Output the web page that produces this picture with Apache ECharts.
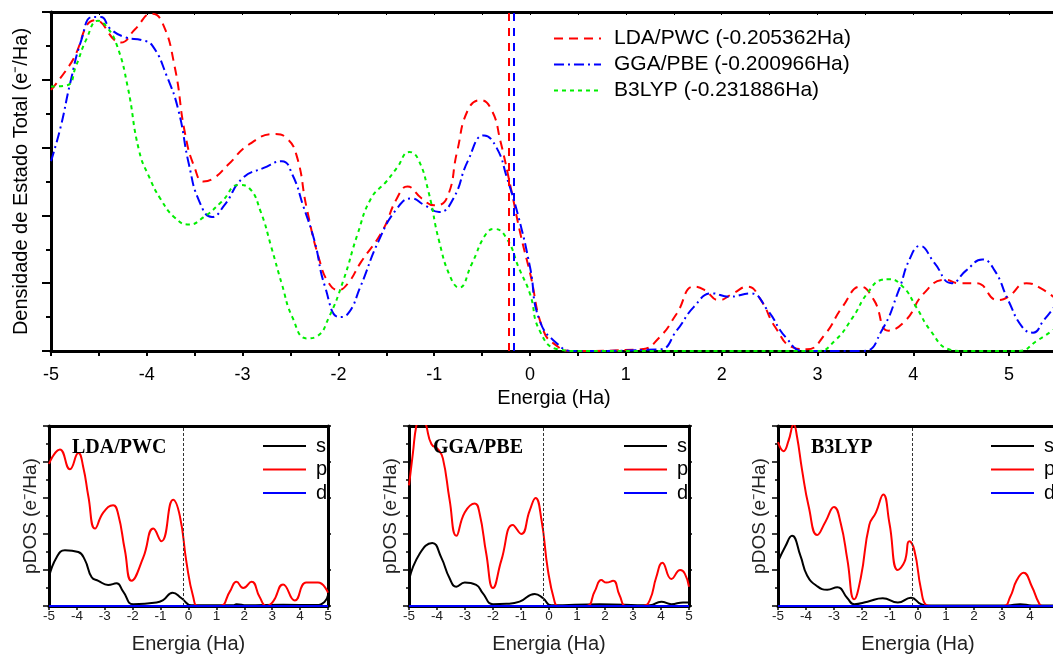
<!DOCTYPE html>
<html><head><meta charset="utf-8">
<script src="https://cdn.jsdelivr.net/npm/echarts/dist/echarts.min.js"></script>
<style>html,body{margin:0;padding:0;background:#fff}#c{width:1053px;height:654px}</style>
</head><body><div id="c"></div>
<script>
// ---------- Top chart: total DOS ----------
const ldaName = 'LDA/PWC (-0.205362Ha)';
const ggaName = 'GGA/PBE (-0.200966Ha)';
const b3Name  = 'B3LYP (-0.231886Ha)';
const ldaX = [-5,-4.79,-4.53,-4.27,-4.12,-3.95,-3.84,-3.71,-3.6,-3.5,-3.41,-3.3,-3.15,-2.93,-2.66,-2.55,-2.44,-2.33,-2.2,-2.1,-2.0,-1.9,-1.77,-1.54,-1.39,-1.28,-1.13,-1.0,-0.87,-0.76,-0.65,-0.52,-0.4,-0.31,-0.2,-0.1,0,0.14,0.28,0.42,1.16,1.35,1.53,1.71,1.82,1.97,2.12,2.27,2.41,2.56,2.75,2.89,3.08,3.26,3.45,3.59,3.74,3.92,4.11,4.33,4.48,4.66,4.88,4.99,5.18,5.36,5.5];
const ldaY = [77,85,97.6,91,95,99.5,97,84,64,54,50,51,55,61,64,63,58,42,27,20,18,20,26,35.5,45,48.5,45,43,45,59,71,74,71,62,48,34.5,23,6,1.5,0,0.5,4,11,19,18,15,17,19,15,7,1,0.5,5,13,19,15,6,9,17,21,20,20,15,16,20,18,15];
const ggaX = [-5,-4.9,-4.8,-4.68,-4.57,-4.48,-4.38,-4.22,-4.05,-3.94,-3.79,-3.67,-3.56,-3.45,-3.32,-3.19,-3.0,-2.78,-2.59,-2.48,-2.37,-2.25,-2.14,-1.99,-1.9,-1.77,-1.58,-1.39,-1.24,-1.1,-0.95,-0.8,-0.65,-0.48,-0.35,-0.24,-0.12,0,0.1,0.29,0.45,1.35,1.53,1.71,1.9,2.08,2.3,2.48,2.67,2.86,3.48,3.67,3.85,3.96,4.07,4.22,4.4,4.55,4.72,4.85,4.99,5.14,5.25,5.36,5.5];
const ggaY = [56,66,79,92,98.5,98.5,95,92.5,91.7,90,81,71,55,44,39.5,43,51,54,56,52,43,32.5,19,10,11,19,32.5,42,45,43,41,45,56,63.6,60,51,39.5,24.7,9,2,0,0.5,6,13,17,16,17,12,4,0,0,6,18,27,31,26,20,23.7,27,23.7,15,7,5.4,9,14];
const b3X = [-5,-4.83,-4.74,-4.63,-4.51,-4.42,-4.31,-4.2,-4.08,-3.97,-3.86,-3.71,-3.56,-3.41,-3.22,-3.04,-2.93,-2.81,-2.7,-2.59,-2.48,-2.33,-2.22,-2.1,-1.95,-1.8,-1.66,-1.5,-1.39,-1.26,-1.17,-1.06,-0.95,-0.83,-0.74,-0.61,-0.46,-0.37,-0.24,-0.12,0,0.1,0.29,0.5,3.0,3.18,3.37,3.52,3.67,3.74,3.89,4.03,4.18,4.37,4.5,5.1,5.29,5.5];
const b3Y = [78,78.4,84,92,97.4,95.7,90,78,59,51,45,39.4,37.3,39.4,44,49,48,41,30.6,19.7,9.9,3.7,4.4,9.9,20.7,34.5,45,50,54,58.7,56.7,47,32.5,21.7,18.7,25.6,34.5,36,33,24.7,16.8,6,0.5,0,0,3,10,17,21,21.2,19,13,6,0.5,0,0,3,7];
const fermiLDA = -0.219, fermiGGA = -0.17;
const topXTicks = [-5, 5.5];

// ---------- Bottom panels: pDOS ----------
const panelTitles = ['LDA/PWC', 'GGA/PBE', 'B3LYP'];
const pdosNames = ['s', 'p', 'd'];
const p1sX = [-5,-4.73,-4.43,-3.95,-3.71,-3.47,-3.23,-2.88,-2.58,-2.34,-1.98,-1.15,-0.91,-0.57,-0.25,0.11,1.6,1.72,2.08,3.39,4.58,4.88,5];
const p1sY = [16,27,31,30,25.5,16,14,11.7,12.6,8,1,1.9,3.3,7.4,4.3,0.4,0.4,1,0.4,0.7,0.5,2.4,6];
const p1pX = [-5,-4.61,-4.25,-3.95,-3.77,-3.59,-3.35,-3.05,-2.7,-2.52,-2.28,-2.04,-1.62,-1.26,-0.97,-0.55,-0.31,-0.07,0.17,0.35,1.12,1.48,1.72,1.96,2.26,2.55,2.79,3.03,3.39,3.81,4.22,4.64,5];
const p1pY = [79,87,76,85,77,61,43,52,56,51,31,14,27,43,36,59,50,24,5,0,0,8,13.5,10,13.5,5,0,2.4,12,3,13,13,7.4];
const p2sX = [-5,-4.62,-4.17,-3.85,-3.55,-3.31,-3.01,-2.6,-2.36,-2.0,-1.52,-1.05,-0.51,-0.21,0.08,1.81,3.6,4.01,4.37,4.79,5];
const p2sY = [14.4,29,35,27,15.4,10.7,13,11.7,7,1,1.2,2.4,6.7,4.3,0.4,1,0.4,2.4,1,2,1.9];
const p2pX = [-5,-4.86,-4.74,-4.56,-4.38,-4.2,-3.96,-3.79,-3.55,-3.31,-3.01,-2.65,-2.48,-2.24,-2.0,-1.7,-1.29,-0.99,-0.69,-0.48,-0.27,-0.04,0.2,0.32,1.33,1.63,1.87,2.05,2.29,2.52,2.76,3.36,3.6,3.83,4.05,4.37,4.69,4.85,5];
const p2pY = [67,85,100,110,100,90,87,82,59,39,52,57,51.5,29,10,25.5,45,40,53,60,48,20,2.4,0,0,8,14.4,13,14,6,0,0,3.3,16,24,15,20,18,10.7];
const p3sX = [-5,-4.74,-4.5,-4.2,-3.96,-3.6,-3.24,-2.88,-2.52,-2.28,-1.8,-1.26,-0.72,-0.25,0.11,0.35,3.2,3.65,4.07,5];
const p3sY = [24.6,33,39,28,17,11,9,10.4,4.3,1,2.4,4.3,1.9,4.6,1,0.3,0.3,1,0.3,0.3];
const p3pX = [-5,-4.8,-4.62,-4.44,-4.32,-4.14,-3.9,-3.6,-3.3,-3.0,-2.76,-2.52,-2.28,-2.04,-1.74,-1.5,-1.24,-1.02,-0.72,-0.48,-0.31,-0.13,0.11,0.29,0.47,3.05,3.29,3.53,3.77,4.07,4.31,4.43,5];
const p3pY = [91,86,92,101,94,75.5,55,39.4,47,55,46,25.5,3.7,16,45,52,62,46,20,24.6,36,31,9,0.6,0,0,5,14.4,18.5,10.7,1.9,0,0];
const dX = [-5, 5];
const dY = [0, 0];
const panelFermi = [-0.197, -0.21, -0.214];

// ---------- build option ----------
const FONT = 'Liberation Sans, Arial, sans-serif';
const BLK = '#000';
const zip = (xs, ys) => xs.map((x, i) => [x, ys[i]]);
const SMOOTH = 0.5;

const grids = [
  {left: 51, top: 12, width: 1006, height: 339},
  {left: 49, top: 426, width: 279, height: 180},
  {left: 409, top: 426, width: 280, height: 180},
  {left: 778, top: 426, width: 280, height: 180}
].map(g => Object.assign(g, {containLabel: false, outerBoundsMode: 'none'}));

const xAxes = [];
const yAxes = [];
// top chart axes
xAxes.push({
  type: 'value', gridIndex: 0, min: topXTicks[0], max: topXTicks[1], interval: 0.5, position: 'bottom',
  axisLine: {onZero: false, lineStyle: {color: BLK, width: 3}},
  axisTick: {show: true, length: 5, lineStyle: {color: BLK, width: 2}},
  axisLabel: {color: BLK, fontSize: 18, fontFamily: FONT, margin: 15,
    formatter: v => (Math.abs(v - Math.round(v)) < 1e-6 && v <= 5) ? String(Math.round(v)) : ''},
  splitLine: {show: false},
  name: 'Energia (Ha)', nameLocation: 'middle', nameGap: 28,
  nameTextStyle: {color: BLK, fontSize: 20, fontFamily: FONT}
});
xAxes.push({
  type: 'value', gridIndex: 0, min: topXTicks[0], max: topXTicks[1], interval: 0.5, position: 'top',
  axisLine: {onZero: false, lineStyle: {color: BLK, width: 3}},
  axisTick: {show: true, inside: true, length: 3, lineStyle: {color: BLK, width: 1}},
  axisLabel: {show: false}, splitLine: {show: false}
});
yAxes.push({
  type: 'value', gridIndex: 0, min: 0, max: 100, interval: 20, position: 'left',
  axisLine: {show: true, onZero: false, lineStyle: {color: BLK, width: 3}},
  axisTick: {show: true, length: 9, lineStyle: {color: BLK, width: 2}},
  minorTick: {show: true, splitNumber: 2, length: 5, lineStyle: {color: BLK, width: 2}},
  axisLabel: {show: false}, splitLine: {show: false},
  name: 'Densidade de Estado Total (e\u207B/Ha)', nameLocation: 'middle', nameGap: 20,
  nameTextStyle: {color: BLK, fontSize: 20, fontFamily: FONT}
});
// bottom panel axes
for (let k = 1; k <= 3; k++) {
  xAxes.push({
    type: 'value', gridIndex: k, min: -5, max: 5, interval: 1, position: 'bottom',
    axisLine: {onZero: false, lineStyle: {color: BLK, width: 3}},
    axisTick: {show: true, length: 4, lineStyle: {color: BLK, width: 1.5}},
    minorTick: {show: true, splitNumber: 2, length: 2, lineStyle: {color: BLK, width: 1.5}},
    axisLabel: {color: '#222', fontSize: 13.5, fontFamily: FONT, margin: 3},
    splitLine: {show: false},
    name: 'Energia (Ha)', nameLocation: 'middle', nameGap: 28,
    nameTextStyle: {color: '#222', fontSize: 20, fontFamily: FONT}
  });
  xAxes.push({
    type: 'value', gridIndex: k, min: -5, max: 5, interval: 1, position: 'top',
    axisLine: {onZero: false, lineStyle: {color: BLK, width: 3}},
    axisTick: {show: false}, axisLabel: {show: false}, splitLine: {show: false}
  });
  yAxes.push({
    type: 'value', gridIndex: k, min: 0, max: 100, interval: 20, position: 'left',
    axisLine: {show: true, onZero: false, lineStyle: {color: BLK, width: 3}},
    axisTick: {show: true, length: 6, lineStyle: {color: BLK, width: 1.5}},
    minorTick: {show: true, splitNumber: 2, length: 3, lineStyle: {color: BLK, width: 1.5}},
    axisLabel: {show: false}, splitLine: {show: false},
    name: 'pDOS (e\u207B/Ha)', nameLocation: 'middle', nameGap: 9,
    nameTextStyle: {color: '#222', fontSize: 19, fontFamily: FONT}
  });
  yAxes.push({
    type: 'value', gridIndex: k, min: 0, max: 100, interval: 20, position: 'right',
    axisLine: {show: true, onZero: false, lineStyle: {color: BLK, width: 3}},
    axisTick: {show: true, length: 3, lineStyle: {color: BLK, width: 1.5}},
    minorTick: {show: true, splitNumber: 2, length: 2, lineStyle: {color: BLK, width: 1.5}},
    axisLabel: {show: false}, splitLine: {show: false}
  });
}

const fermiLine = (x, color, width, type) => ({
  silent: true, symbol: ['none', 'none'], label: {show: false},
  lineStyle: {color: color, width: width, type: type},
  data: [{xAxis: x}]
});

const series = [
  {name: ldaName, type: 'line', xAxisIndex: 0, yAxisIndex: 0, data: zip(ldaX, ldaY),
   showSymbol: false, symbol: 'none', smooth: SMOOTH, z: 3,
   lineStyle: {color: '#ff0000', width: 2, type: [9, 6]}, itemStyle: {color: '#ff0000'},
   markLine: fermiLine(fermiLDA, '#ff0000', 2, [8, 7])},
  {name: ggaName, type: 'line', xAxisIndex: 0, yAxisIndex: 0, data: zip(ggaX, ggaY),
   showSymbol: false, symbol: 'none', smooth: SMOOTH, z: 3,
   lineStyle: {color: '#0000ff', width: 2, type: [10, 4, 2, 4]}, itemStyle: {color: '#0000ff'},
   markLine: fermiLine(fermiGGA, '#0000ff', 2, [8, 7])},
  {name: b3Name, type: 'line', xAxisIndex: 0, yAxisIndex: 0, data: zip(b3X, b3Y),
   showSymbol: false, symbol: 'none', smooth: SMOOTH, z: 3,
   lineStyle: {color: '#00ee00', width: 2, type: [4, 4]}, itemStyle: {color: '#00ee00'}}
];

const panelData = [
  [zip(p1sX, p1sY), zip(p1pX, p1pY), zip(dX, dY)],
  [zip(p2sX, p2sY), zip(p2pX, p2pY), zip(dX, dY)],
  [zip(p3sX, p3sY), zip(p3pX, p3pY), zip(dX, dY)]
];
const pColors = ['#000000', '#ff0000', '#0000ff'];
panelData.forEach((set, i) => {
  set.forEach((d, j) => {
    const s = {
      name: pdosNames[j], type: 'line', xAxisIndex: 2 + i * 2, yAxisIndex: 1 + i * 2,
      data: d, showSymbol: false, symbol: 'none', smooth: SMOOTH, z: 3 + j,
      lineStyle: {color: pColors[j], width: 2}, itemStyle: {color: pColors[j]}
    };
    if (j === 0) s.markLine = fermiLine(panelFermi[i], '#333', 1, [3, 2]);
    series.push(s);
  });
});

const legends = [
  {left: 553, top: 28, padding: 0, orient: 'vertical', itemWidth: 47, itemHeight: 14, itemGap: 5,
   data: [ldaName, ggaName, b3Name],
   itemStyle: {opacity: 0, borderWidth: 0},
   textStyle: {color: BLK, fontSize: 21, fontFamily: FONT, padding: [0, 0, 0, 8]}}
];
[262, 623, 990].forEach(l => legends.push({
  left: l, top: 436, padding: 0, orient: 'vertical', itemWidth: 43, itemHeight: 14, itemGap: 3.5,
  data: pdosNames,
  itemStyle: {opacity: 0, borderWidth: 0},
  textStyle: {color: BLK, fontSize: 20, fontFamily: FONT, padding: [0, 0, 0, 5]}
}));

const titles = [[72, panelTitles[0]], [433, panelTitles[1]], [811, panelTitles[2]]].map(([l, t]) => ({
  text: t, left: l, top: 438, padding: 0,
  textStyle: {color: BLK, fontSize: 20, fontWeight: 'bold', fontFamily: 'Liberation Serif, Times New Roman, serif'}
}));

const chart = echarts.init(document.getElementById('c'), null, {renderer: 'canvas'});
chart.setOption({
  animation: false,
  backgroundColor: '#fff',
  title: titles,
  legend: legends,
  grid: grids,
  xAxis: xAxes,
  yAxis: yAxes,
  series: series
});
</script></body></html>
